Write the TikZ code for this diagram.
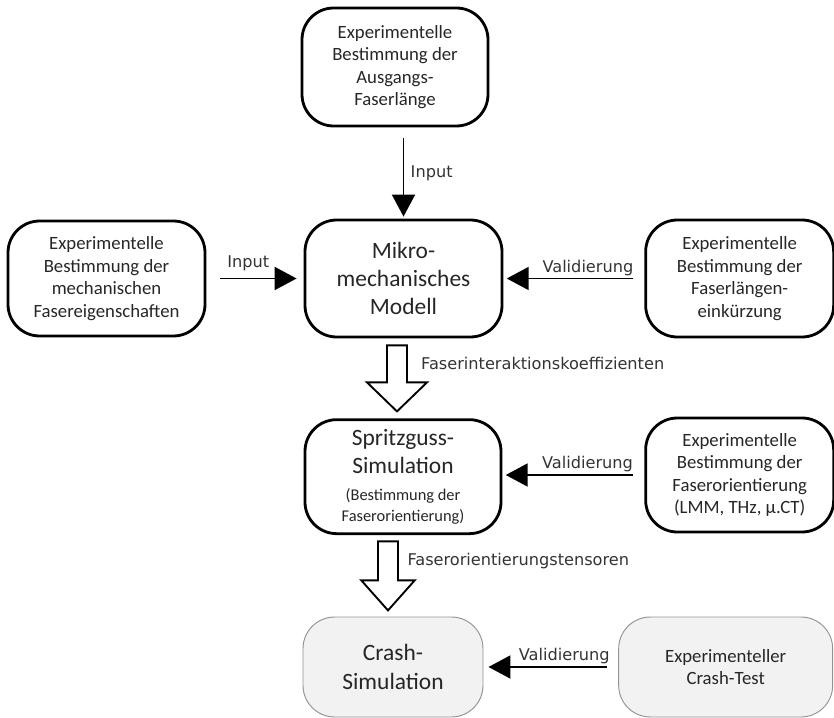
\documentclass[tikz,border=0pt]{standalone}
\usepackage{fontspec}
\usepackage{tikz}
\usetikzlibrary{arrows.meta,calc}
\newfontfamily\kastenfont{Carlito}
\newfontfamily\kantenfont{DejaVu Sans}

\tikzset{
  kasten/.style={draw, line width=2.4pt, rounded corners=0.95cm, align=center,
    text=black!85, font=\kastenfont\fontsize{16}{19.2}\selectfont},
  gross/.style={font=\kastenfont\fontsize{20}{24}\selectfont},
  grau/.style={draw=gray!85, line width=0.8pt, fill=gray!10},
  pfeil/.style={-{Triangle[length=0.66cm,width=0.69cm]}, line width=1.7pt,
    shorten <=0.33cm, shorten >=0.1cm},
  kante/.style={text=black!80, font=\kantenfont\fontsize{13.8}{16}\selectfont},
  hohlpfeil/.style={draw, line width=1.6pt, fill=white, line join=miter}
}

\begin{document}
\begin{tikzpicture}
\useasboundingbox (0,0) rectangle (25.02,-21.54);
% Kaesten
\node[kasten, minimum width=5.58cm, minimum height=3.54cm] (ausgang) at (11.85,-2.01)
  {Experimentelle\\Bestimmung der\\Ausgangs-\\Faserlänge};
\node[kasten, gross, minimum width=5.91cm, minimum height=3.51cm] (mikro) at (12.105,-8.355)
  {Mikro-\\mechanisches\\Modell};
\node[kasten, minimum width=5.91cm, minimum height=3.45cm] (faser) at (3.195,-8.355)
  {Experimentelle\\Bestimmung der\\mechanischen\\Fasereigenschaften};
\node[kasten, minimum width=5.64cm, minimum height=3.51cm] (kuerz) at (22.19,-8.355)
  {Experimentelle\\Bestimmung der\\Faserlängen-\\einkürzung};
\node[kasten, gross, minimum width=5.88cm, minimum height=3.42cm] (spritz) at (12.09,-14.3)
  {Spritzguss-\\Simulation\\[-1pt]\fontsize{14}{16.5}\selectfont(Bestimmung der\\[-6pt]\fontsize{14}{16.5}\selectfont Faserorientierung)};
\node[kasten, minimum width=5.64cm, minimum height=3.42cm] (orient) at (22.19,-14.25)
  {Experimentelle\\Bestimmung der\\Faserorientierung\\(LMM, THz, µ.CT)};
\node[kasten, gross, grau, minimum width=5.4cm, minimum height=3.0cm] (crash) at (11.79,-20.01)
  {Crash-\\Simulation};
\node[kasten, grau, minimum width=6.42cm, minimum height=3.0cm] (test) at (21.77,-20.01)
  {Experimenteller\\Crash-Test};
% Pfeile
\draw[pfeil, shorten >=0.06cm] (ausgang.south -| mikro.north) -- (mikro.north)
  node[kante, midway, right=2pt] {Input};
\draw[pfeil, shorten <=0.42cm, shorten >=0.21cm] (faser.east) -- (mikro.west)
  node[kante, pos=0.43, above=2pt] {Input};
\draw[pfeil] (kuerz.west) -- (mikro.east)
  node[kante, pos=0.4, above, inner sep=1.5pt] {Validierung};
\draw[pfeil] (orient.west) -- (spritz.east |- orient.west)
  node[kante, pos=0.4, above, inner sep=1.5pt] {Validierung};
\draw[pfeil, shorten >=0.15cm] (test.west) -- (crash.east)
  node[kante, pos=0.4, above, inner sep=1.5pt] {Validierung};
% Hohlpfeile
\draw[hohlpfeil] ($(mikro.south)+(-0.495,-0.21)$) -- ++(0.6,0) -- ++(0,-1.11)
  node[kante, midway, right=8pt] {Faserinteraktionskoeffizienten}
  -- ++(0.6,0) -- ++(-0.9,-0.87) -- ++(-0.9,0.87) -- ++(0.6,0) -- cycle;
\draw[hohlpfeil] ($(spritz.south)+(-0.75,-0.19)$) -- ++(0.6,0) -- ++(0,-1.17)
  node[kante, midway, right=4pt] {Faserorientierungstensoren}
  -- ++(0.5,0) -- ++(-0.8,-0.9) -- ++(-0.8,0.9) -- ++(0.5,0) -- cycle;
\end{tikzpicture}
\end{document}
